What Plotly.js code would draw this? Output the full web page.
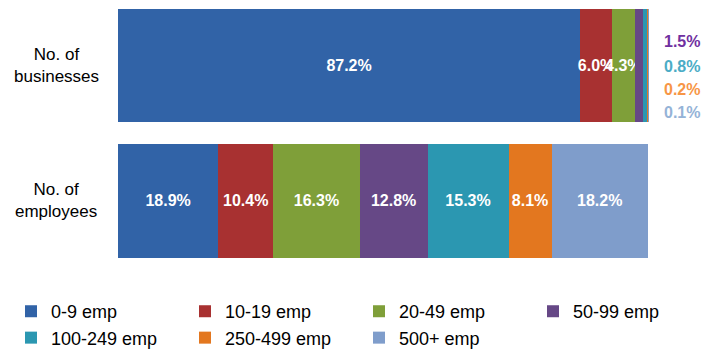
<!DOCTYPE html>
<html>
<head>
<meta charset="utf-8">
<script src="https://cdn.plot.ly/plotly-3.0.1.min.js"></script>
<style>
html,body{margin:0;padding:0;background:#fff;}
#chart{width:714px;height:351px;}
</style>
</head>
<body>
<div id="chart"></div>
<script>
const categories = ["No. of<br>businesses", "No. of<br>employees"];
const sizeBands = ["0-9 emp", "10-19 emp", "20-49 emp", "50-99 emp", "100-249 emp", "250-499 emp", "500+ emp"];
const businessesPct = [87.2, 6.0, 4.3, 1.5, 0.8, 0.2, 0.1];
const employeesPct = [18.9, 10.4, 16.3, 12.8, 15.3, 8.1, 18.2];
const colors = ["#3163a7", "#a83131", "#7f9f39", "#664886", "#2b97b1", "#e3771f", "#7f9dcb"];
const outsideColors = ["#7030a0", "#4bacc6", "#f79646", "#95b3d7"];

const FONT = "'Liberation Sans Narrow', 'Arial Narrow', 'Liberation Sans', Arial, sans-serif";
const fmt = v => v.toFixed(1) + "%";
const insideCount = 3; // first three business segments labelled inside the bar

const traces = sizeBands.map((name, i) => ({
  type: "bar",
  orientation: "h",
  name: name,
  x: [businessesPct[i], employeesPct[i]],
  y: [0, 1],
  text: [i < insideCount ? fmt(businessesPct[i]) : "", fmt(employeesPct[i])],
  textposition: "inside",
  insidetextanchor: "middle",
  textangle: 0,
  constraintext: "none",
  textfont: {family: FONT, size: 16, color: "#ffffff", weight: "bold"},
  marker: {color: colors[i], line: {width: 0}},
  hoverinfo: "skip"
}));

// plot area: x from 118 px to 704 px (586 px), 100% reaches 648 px
const annotations = [];
categories.forEach((c, i) => {
  annotations.push({
    text: c, xref: "paper", yref: "y", x: -0.1058, y: i,
    xanchor: "center", yanchor: "middle", align: "center", showarrow: false,
    font: {family: FONT, size: 17, color: "#000000"}
  });
});
const outsideY = [0.856, 0.773, 0.694, 0.615];
for (let k = insideCount; k < businessesPct.length; k++) {
  annotations.push({
    text: fmt(businessesPct[k]), xref: "paper", yref: "paper",
    x: 0.9625, y: outsideY[k - insideCount], xanchor: "center", yanchor: "middle",
    showarrow: false,
    font: {family: FONT, size: 16, color: outsideColors[k - insideCount], weight: "bold"}
  });
}

const layout = {
  width: 714, height: 351,
  margin: {l: 118, r: 10, t: 0, b: 60, autoexpand: false},
  paper_bgcolor: "#ffffff", plot_bgcolor: "#ffffff",
  barmode: "stack", bargap: 0.162,
  showlegend: true,
  xaxis: {range: [0, 110.57], visible: false, fixedrange: true},
  yaxis: {range: [1.665, -0.483], visible: false, fixedrange: true, type: "linear"},
  legend: {
    orientation: "h",
    x: -0.1826, xanchor: "left", y: -0.007, yanchor: "top",
    entrywidth: 129, entrywidthmode: "pixels", traceorder: "normal",
    font: {family: "'Liberation Sans', Arial, sans-serif", size: 18, color: "#000000"},
    itemclick: false, itemdoubleclick: false
  },
  annotations: annotations
};

Plotly.newPlot("chart", traces, layout, {displayModeBar: false, staticPlot: true});
</script>
</body>
</html>
